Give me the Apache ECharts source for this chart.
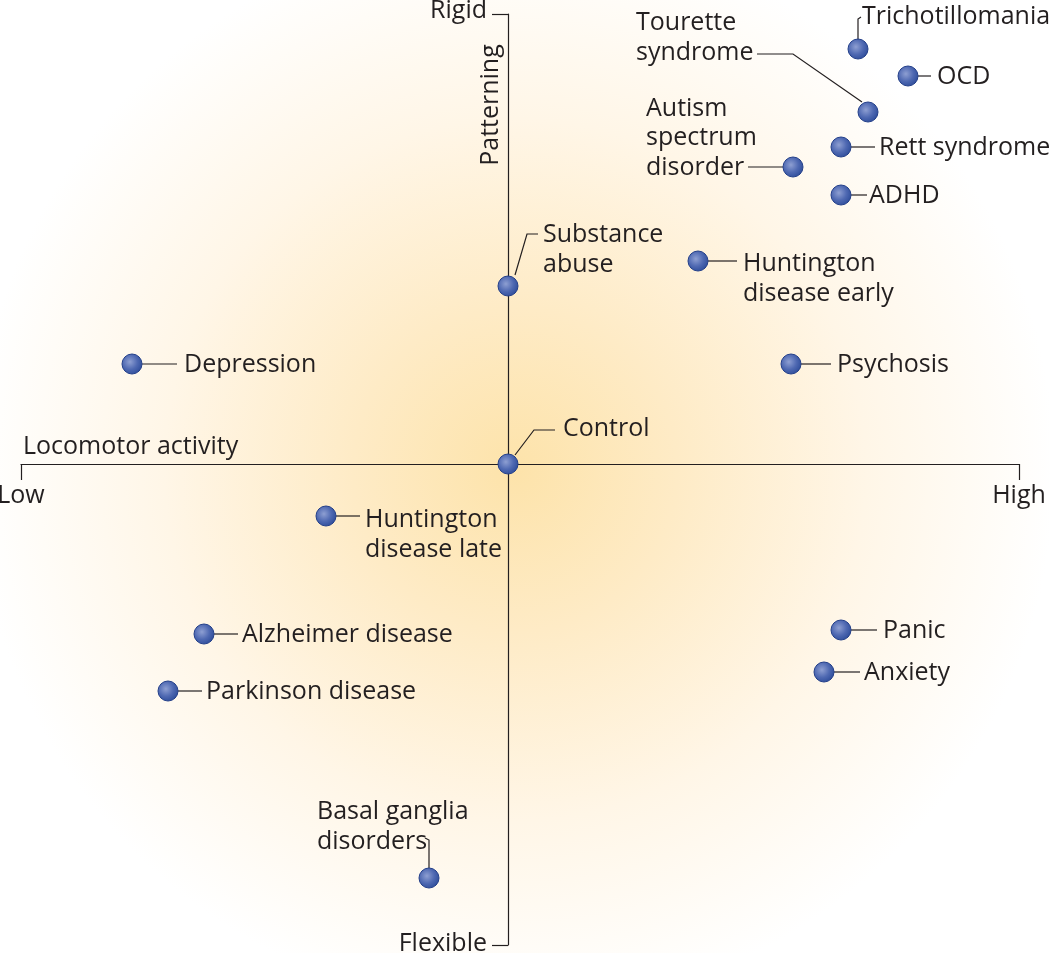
<!DOCTYPE html>
<html>
<head>
<meta charset="utf-8">
<script src="https://cdn.jsdelivr.net/npm/echarts@6/dist/echarts.min.js"></script>
<style>
  html, body { margin: 0; padding: 0; background: #fff; }
  #chart { width: 1050px; height: 953px; }
</style>
</head>
<body>
<div id="chart"></div>
<script>
// disorders placed on locomotor activity (x) vs patterning (y)
const names = [
  'Trichotillomania', 'OCD', 'Tourette\nsyndrome', 'Rett syndrome',
  'Autism\nspectrum\ndisorder', 'ADHD', 'Huntington\ndisease early',
  'Substance\nabuse', 'Depression', 'Psychosis', 'Control',
  'Huntington\ndisease late', 'Alzheimer disease', 'Panic', 'Anxiety',
  'Parkinson disease', 'Basal ganglia\ndisorders'
]
const locomotor = [3.50, 4.00, 3.60, 3.33, 2.85, 3.33, 1.90, 0, -3.76, 2.83, 0, -1.82, -3.04, 3.33, 3.16, -3.40, -0.79]
const patterning = [4.15, 3.88, 3.52, 3.17, 2.97, 2.69, 2.03, 1.78, 1.00, 1.00, 0, -0.52, -1.70, -1.66, -2.08, -2.27, -4.14]

const xMin = -4.87, xMax = 5.11
const yMin = -4.81, yMax = 4.5

// label placement (px from the dot) and leader line shapes
const labelOffsets = [
  [4, -32], [29, 1], [-232, -74], [38, 1], [-147, -29], [28, 1], [45, 18],
  [35, -36], [52, 1], [46, 1], [55, -35], [39, 19], [38, 1], [42, 1],
  [40, 1], [38, 1], [-112, -51]
]
const leaders = [
  [[0, -9], [0, -30], [3, -32]],
  [[10, 0], [23, 0]],
  [[-6, -10], [-75, -58], [-111, -58]],
  [[10, 0], [34, 0]],
  [[-10, 0], [-45, 0]],
  [[10, 0], [26, 0]],
  [[10, 0], [39, 0]],
  [[7, -11], [19, -52], [30, -52]],
  [[10, 0], [45, 0]],
  [[10, 0], [40, 0]],
  [[7, -9], [26, -34], [47, -34]],
  [[10, 0], [34, 0]],
  [[10, 0], [34, 0]],
  [[10, 0], [36, 0]],
  [[10, 0], [36, 0]],
  [[10, 0], [34, 0]],
  [[0, -10], [0, -38], [-4, -40]]
]

const INK = '#231f20'
const FONT = 'Open Sans'
const FONT_CSS = '25px "' + FONT + '"'

const chart = echarts.init(document.getElementById('chart'))

const points = names.map((n, i) => ({
  name: n,
  value: [locomotor[i], patterning[i]],
  label: { offset: labelOffsets[i] }
}))

const dotFill = new echarts.graphic.RadialGradient(0.4, 0.4, 0.65, [
  { offset: 0, color: '#8e9fd2' },
  { offset: 0.55, color: '#4f69b2' },
  { offset: 1, color: '#2c4b99' }
])

const endLabel = (text, x, y, align) => ({
  type: 'text',
  x: x,
  y: y,
  silent: true,
  style: { text: text, fill: INK, font: FONT_CSS, align: align, verticalAlign: 'middle' }
})

const option = {
  animation: false,
  graphic: [
    {
      type: 'rect',
      z: -10,
      silent: true,
      shape: { x: 0, y: 0, width: 1050, height: 953 },
      style: {
        fill: new echarts.graphic.RadialGradient(515, 470, 540, [
          { offset: 0, color: '#fde3aa' },
          { offset: 0.3, color: '#feebc6' },
          { offset: 0.65, color: '#fff6e7' },
          { offset: 1, color: '#ffffff' }
        ], true)
      }
    },
    {
      type: 'text',
      x: 23,
      y: 447,
      silent: true,
      style: { text: 'Locomotor activity', fill: INK, font: FONT_CSS, align: 'left', verticalAlign: 'middle' }
    },
    {
      type: 'text',
      x: 491,
      y: 105,
      rotation: Math.PI / 2,
      silent: true,
      style: { text: 'Patterning', fill: INK, font: FONT_CSS, align: 'center', verticalAlign: 'middle' }
    },
    endLabel('Low', 21, 496, 'center'),
    endLabel('High', 1019, 496, 'center'),
    endLabel('Rigid', 487, 11, 'right'),
    endLabel('Flexible', 487, 944, 'right')
  ],
  grid: { left: 21, right: 31, top: 14, bottom: 8, containLabel: false, outerBoundsMode: 'none' },
  xAxis: {
    type: 'value',
    min: xMin,
    max: xMax,
    splitLine: { show: false },
    axisLine: { onZero: true, lineStyle: { color: INK, width: 1.2 } },
    axisTick: { show: true, length: 16, customValues: [xMin, xMax], lineStyle: { color: INK, width: 1.2 } },
    axisLabel: { show: false }
  },
  yAxis: {
    type: 'value',
    min: yMin,
    max: yMax,
    splitLine: { show: false },
    axisLine: { onZero: true, lineStyle: { color: INK, width: 1.2 } },
    axisTick: { show: true, length: 16, customValues: [yMin, yMax], lineStyle: { color: INK, width: 1.2 } },
    axisLabel: { show: false }
  },
  series: [
    {
      type: 'custom',
      z: 2,
      silent: true,
      data: points.map(p => p.value),
      renderItem: (params, api) => {
        const c = api.coord([api.value(0), api.value(1)])
        const pts = leaders[params.dataIndex].map(o => [c[0] + o[0], c[1] + o[1]])
        return {
          type: 'polyline',
          shape: { points: pts },
          style: { stroke: INK, lineWidth: 1.2, fill: null }
        }
      }
    },
    {
      type: 'scatter',
      z: 3,
      symbolSize: 20,
      itemStyle: { color: dotFill, borderColor: '#24408a', borderWidth: 1, opacity: 1 },
      label: {
        show: true,
        position: 'inside',
        align: 'left',
        verticalAlign: 'middle',
        formatter: '{b}',
        color: INK,
        opacity: 1,
        fontFamily: FONT,
        fontSize: 25,
        lineHeight: 29.5
      },
      data: points
    }
  ]
}

chart.setOption(option)
window.addEventListener('resize', () => chart.resize())
</script>
</body>
</html>
